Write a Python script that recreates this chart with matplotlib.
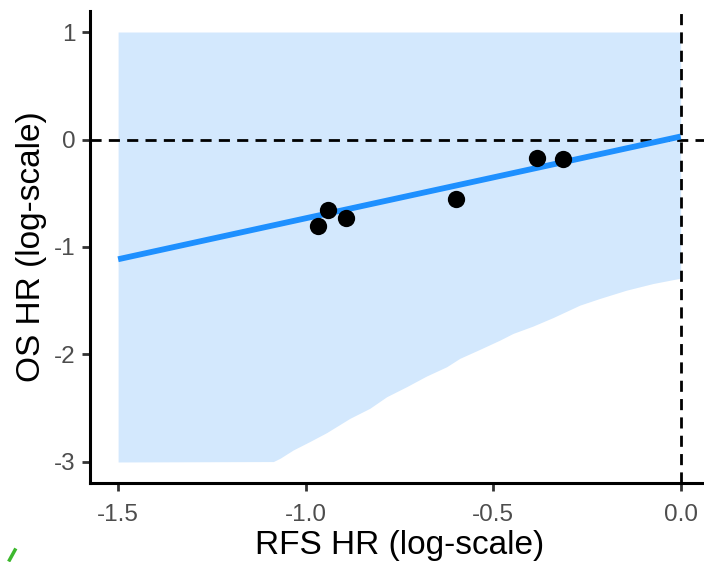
import matplotlib
matplotlib.use("Agg")
import matplotlib.pyplot as plt
from matplotlib.lines import Line2D

plt.rcParams['font.family'] = ['Liberation Sans', 'DejaVu Sans']
plt.rcParams['axes.unicode_minus'] = False

# observed trials (log HR)
rfs_hr = [-0.968, -0.941, -0.893, -0.598, -0.384, -0.313]
os_hr = [-0.808, -0.659, -0.733, -0.551, -0.173, -0.183]

# fitted line
fit_x = [-1.5, -1.0, -0.5, 0.0]
fit_y = [-1.114, -0.733, -0.353, 0.028]

# prediction band (lower edge, upper edge flat at 1)
band_x = [-1.5, -1.086, -1.068, -1.033, -0.989, -0.944, -0.882, -0.829,
          -0.784, -0.731, -0.678, -0.624, -0.589, -0.536, -0.482, -0.447,
          -0.394, -0.340, -0.269, -0.216, -0.145, -0.074, 0.0]
band_lo = [-3.0, -2.996, -2.965, -2.888, -2.810, -2.727, -2.594, -2.501,
           -2.393, -2.300, -2.201, -2.114, -2.036, -1.953, -1.866, -1.804,
           -1.736, -1.656, -1.541, -1.479, -1.402, -1.340, -1.29]
band_hi = [1.0] * len(band_x)

xticks = [-1.5, -1.0, -0.5, 0.0]
xtick_labels = ["-1.5", "-1.0", "-0.5", "0.0"]
yticks = [1, 0, -1, -2, -3]
ytick_labels = ["1", "0", "-1", "-2", "-3"]

fig = plt.figure(figsize=(7.04, 5.62), dpi=100)
ax = fig.add_axes([0.1278, 0.1397, 0.879, 0.8416])

ax.fill_between(band_x, band_lo, band_hi, color="#D3E8FD", linewidth=0, zorder=1)
ax.axhline(0, color="black", linestyle=(0, (4, 2.6)), linewidth=2, zorder=2)
ax.axvline(0, color="black", linestyle=(0, (4, 2.6)), linewidth=2, zorder=2)
ax.plot(fit_x, fit_y, color="#1E90FF", linewidth=4.2, solid_capstyle="butt", zorder=3)
ax.scatter(rfs_hr, os_hr, s=155, color="black", linewidths=0, zorder=4)

ax.set_xlim(-1.575, 0.075)
ax.set_ylim(-3.2, 1.2)
ax.set_xticks(xticks)
ax.set_xticklabels(xtick_labels)
ax.set_yticks(yticks)
ax.set_yticklabels(ytick_labels)

for side in ["top", "right"]:
    ax.spines[side].set_visible(False)
for side in ["left", "bottom"]:
    ax.spines[side].set_linewidth(2.2)
    ax.spines[side].set_color("black")

ax.tick_params(axis="both", length=5.5, width=2, color="#333333",
               labelsize=17.5, labelcolor="#4D4D4D", pad=5)
ax.tick_params(axis="x", pad=9)

ax.set_xlabel("RFS HR (log-scale)", fontsize=24, color="black", labelpad=3)
ax.set_ylabel("OS HR (log-scale)", fontsize=24, color="black", labelpad=5)

# small green stray mark at the lower left corner
fig.add_artist(Line2D([9.5 / 704, 15 / 704], [1 - 560 / 562, 1 - 550 / 562],
                      transform=fig.transFigure, color="#3DB82E", linewidth=2.5))

fig.savefig("out.png", dpi=100)
